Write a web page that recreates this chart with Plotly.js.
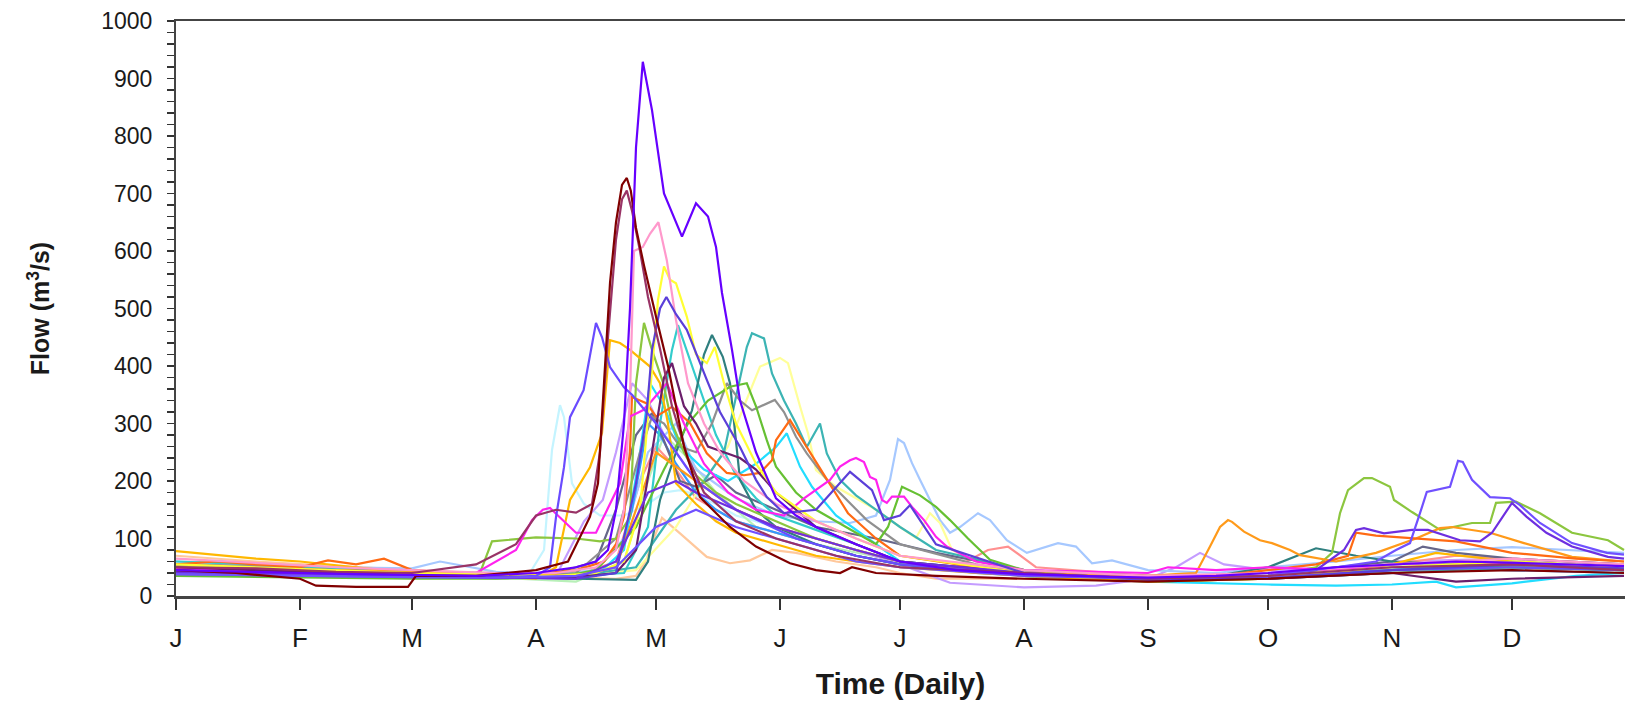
<!DOCTYPE html>
<html>
<head>
<meta charset="utf-8">
<script src="https://cdn.plot.ly/plotly-3.0.1.min.js"></script>
<style>html,body{margin:0;padding:0;background:#fff;}#chart{width:1625px;height:706px;}</style>
</head>
<body>
<div id="chart"></div>
<script>
// Month tick positions (day of year) and labels
const monthDays = [0,31,59,90,120,151,181,212,243,273,304,334];
const monthLabels = ['J','F','M','A','M','J','J','A','S','O','N','D'];

// Daily flow series (day of year, flow m3/s) at key days
const violetDays = [0,15,31,45,59,75,90,100,105,108,110,112,113.5,115,116.7,118,119,122,126.5,130,133,135,136.5,139,141,145,150,155,160,170,181,195,212,230,243,260,273,290,304,320,334,350,362];
const violetFlow = [45,42,40,38,36,35,40,50,60,80,150,300,500,780,929,880,845,700,625,683,660,607,527,428,340,250,170,140,120,90,60,45,38,34,32,35,40,50,55,60,58,55,52];

const maroonDays = [0,15,31,35,45,58,60,75,90,98,103.5,105.5,107,108.5,110,111.5,112.7,113.7,115,117,120,123,127,131,138.5,145,153.5,160,166,169,175,190,212,243,273,304,334,362];
const maroonFlow = [45,40,30,18,16,16,35,35,45,60,138,196,370,544,650,715,727,705,640,575,486,400,260,172,120,86,57,45,40,50,40,35,30,25,30,40,45,40];

const plumDays = [0,20,40,59,75,85,90,95,100,104,106,108,110,111.5,112.7,114,116,118,121,124,128,132,140,150,165,181,212,243,273,304,334,362];
const plumFlow = [50,48,42,40,55,90,140,150,145,160,250,450,620,690,705,670,600,520,430,330,240,180,130,100,70,50,40,30,35,50,55,45];

const pinkDays = [0,20,40,59,80,95,105,110,112,113.5,114.5,116.7,118.5,120.6,122.7,125,128,132,136,142,150,160,170,181,200,212,243,273,304,334,362];
const pinkFlow = [65,58,50,45,40,40,50,80,150,350,600,607,630,650,584,480,370,300,250,200,160,130,100,70,55,45,35,40,55,65,55];

const yellowDays = [0,20,40,59,80,95,105,112,116,119,120.5,122,123.5,125,127.7,130,132.7,134.7,137,140,145,150,160,170,181,212,243,273,304,334,362];
const yellowFlow = [55,50,45,40,38,35,40,60,150,400,515,573,550,544,486,420,405,433,370,300,230,180,130,100,70,40,30,35,50,60,50];

const paleYellowDays = [0,20,40,59,80,100,115,125,132,138,142,146,151,153,156,158,160,165,170,175,181,185,188.5,191,194,200,212,243,273,304,334,362];
const paleYellowFlow = [50,48,44,40,38,35,45,120,200,260,330,399,414,405,330,283,219,190,170,150,120,101,144,127,80,60,45,30,35,45,55,45];

const blueDays = [0,20,40,59,80,90,93.5,95,97,98.5,101.9,105,106.5,108.5,112,114,120,125,130,140,155,170,181,212,243,273,304,334,362];
const blueFlow = [38,36,35,33,32,35,50,137,224,311,358,475,450,398,363,350,300,250,200,150,100,70,55,38,30,32,45,50,45];

const indigoDays = [0,20,40,59,80,100,110,115,117.6,119,121,122.6,125,127.7,129,132.7,136,141,145,147.7,152,160,168.5,174,177,181,183.5,190,212,243,273,304,334,362];
const indigoFlow = [42,40,38,35,33,30,40,196,312,428,500,520,490,463,440,376,320,259,202,172,144,150,216,184,132,140,158,90,40,28,30,45,55,48];

const greenDays = [0,15,31,45,59,70,76,79,90,100,106,110,113.5,115,117,119,121.8,124,127,130,135,140,150,160,170,181,200,212,230,243,260,273,285,289,291,293,297,299,303.5,304.5,309,316,324,328.5,330,335,341,349,358,362];
const greenFlow = [40,38,35,34,33,35,40,95,102,100,95,100,137,370,475,428,370,300,250,210,180,160,130,100,80,60,45,35,30,28,30,35,50,75,144,184,205,205,190,167,146,115,127,127,162,164,144,110,97,80];

const leafDays = [0,20,40,59,80,95,105,115,122,128,133,138.5,142.7,145,147.7,150,155,160,165,170,175,178,181.5,186,190,193.5,198,203.5,212,243,273,304,334,362];
const leafFlow = [35,33,32,30,30,32,45,120,220,300,340,364,370,330,271,225,180,150,130,110,90,120,190,175,155,132,100,63,45,25,30,45,50,45];

const goldDays = [0,10,20,31,45,59,75,90,95,98.5,103.5,106.5,108.5,111,113.5,118.5,121,123,125,130,135,140,150,160,170,181,200,212,243,273,290,304,315,334,362];
const goldFlow = [78,72,65,60,50,40,35,30,50,167,224,283,445,440,428,399,370,300,196,160,130,110,90,70,60,50,40,35,25,30,40,55,75,60,50];

const tealDays = [0,20,40,59,80,100,115,125,132,137,141,142.7,144,147,149,152,155,157.7,161,162.7,166,170,174,181,190,212,243,273,304,334,362];
const tealFlow = [55,50,45,40,35,35,50,150,200,250,376,433,457,448,387,340,300,259,300,248,202,175,155,120,80,45,30,30,40,50,45];

const darkTealDays = [0,20,40,59,80,100,110,115,118,121,125,129,132,134,136.7,138.5,141,145,150,160,170,181,212,243,260,273,285,295,304,320,334,362];
const darkTealFlow = [45,42,40,38,35,30,28,28,60,167,250,323,420,454,416,370,202,150,120,90,70,55,40,30,35,50,83,70,60,55,50,45];

const turquoiseDays = [0,20,40,59,80,100,112,118,121,124,125.5,127.7,130,135,140,145,150,160,170,181,212,243,273,304,334,362];
const turquoiseFlow = [60,55,48,42,38,35,40,120,300,428,471,428,380,280,210,170,140,115,90,60,40,28,32,45,55,50];

const cyanDays = [0,20,40,59,80,95,105,112,116,118.5,122,126,132,138,145,150,152.7,156,159,165,175,181,212,243,273,290,304,315,320,334,350,362];
const cyanFlow = [50,48,44,40,36,33,35,80,250,370,330,260,220,200,230,259,283,225,190,140,90,60,35,25,20,18,20,25,15,22,35,40];

const grayDays = [0,20,40,59,75,90,100,110,116,119,122,126,130,134,137.7,141,144,149.7,152,155,157.7,162.7,167.7,172.7,181,200,212,243,273,304,334,362];
const grayFlow = [55,52,45,42,40,35,40,100,250,312,300,260,250,300,370,340,323,341,320,277,248,202,167,132,90,55,40,30,35,55,60,50];

const orangeDays = [0,10,20,31,38,45,52,59,70,80,90,100,107,110,112,113.5,114,117.7,120,124,128.5,132.7,137.7,142,146,149,150,153.5,157.7,162.7,168,175,181,200,212,243,260,273,285,293,295,300,310,320,334,350,362];
const orangeFlow = [55,60,55,50,62,55,65,45,40,35,38,45,60,90,138,254,346,335,312,329,301,248,214,210,214,236,271,306,259,202,144,100,70,50,40,30,35,45,55,70,110,105,100,95,75,65,60];

const skyDays = [0,20,40,59,66,80,95,105,112,118,125,130,140,150,160,168.5,175,178.5,180.5,182,184,186,191,193.5,196,200.5,203.5,207.7,212.7,220.5,225,229,234,243,260,273,290,304,320,334,350,362];
const skyFlow = [60,55,50,48,60,42,38,45,100,250,300,220,170,140,130,127,140,202,273,266,231,202,132,110,120,144,132,97,75,92,86,57,62,45,40,50,60,70,80,85,80,75];

const magentaDays = [0,20,40,59,75,85,89,91.7,93.5,96,100,105,111,113.5,116.7,119,122.7,127,132,138,145,152,157,163.5,166,168.5,170,172,173.5,175,176.5,177.7,179,182,184,187,190,192.7,200,212,243,248,260,273,290,304,320,334,362];
const magentaFlow = [48,45,40,38,40,80,132,150,153,137,110,110,196,312,323,340,370,300,230,180,150,140,170,202,225,236,240,233,207,202,167,162,173,173,155,132,103,86,60,45,40,50,45,50,45,55,60,55,50];

const peachDays = [0,20,40,59,80,100,110,115,117.6,119,121.5,126,132.7,138.5,143.5,149,155,165,175,181,190,212,243,273,304,334,362];
const peachFlow = [70,60,52,45,38,32,30,35,63,92,136,109,68,57,62,80,75,60,50,40,30,30,28,32,40,50,45];

const iceDays = [0,20,40,59,80,88,92,94,96,97,99,102,106,112,118,122,126,129,135,140,150,160,170,181,212,243,273,304,334,362];
const iceFlow = [50,48,45,40,35,35,80,254,332,311,196,160,140,140,160,180,184,178,160,140,120,100,80,60,40,30,30,40,50,45];

const lavenderDays = [0,20,40,59,80,95,102,106.7,110,114,118,122,130,140,150,160,170,181,193.5,212,230,243,250,256,262,273,290,304,334,362];
const lavenderFlow = [45,42,40,35,30,35,130,167,250,370,340,280,200,150,120,100,80,55,23,15,18,30,50,75,55,45,50,60,65,55];

const plumDarkDays = [0,20,40,59,80,100,110,115,119,122,124,127,130,133,137,141,145,150,160,170,181,212,243,273,304,320,334,362];
const plumDarkFlow = [50,45,40,38,35,33,40,80,250,380,405,330,300,260,250,240,220,180,120,90,60,40,30,30,40,25,30,35];

const slateDays = [0,20,40,59,80,95,105,110,115,119,122,126,130,135,140,150,160,175,190,212,243,273,290,304,311.7,320,334,362];
const slateFlow = [55,50,45,42,40,40,60,150,280,318,270,200,190,210,180,150,120,100,75,45,35,35,50,60,86,75,65,55];

const royalDays = [0,20,40,59,80,100,110,114,118,121,125,130,135,140,150,160,170,181,200,212,243,273,290,304,334,362];
const royalFlow = [40,38,36,35,33,35,50,150,300,280,230,180,150,130,110,90,70,55,40,35,28,30,40,50,45,40];

const salmonDays = [0,20,40,59,80,100,110,116,120,124,130,140,150,160,170,181,195,203,208,215,243,273,304,320,334,362];
const salmonFlow = [55,52,48,42,38,35,60,200,260,230,170,130,110,90,70,55,50,80,86,50,35,35,55,70,65,55];

const mintDays = [0,20,40,59,80,100,112,118,122,128,135,145,160,181,212,243,273,304,334,362];
const mintFlow = [45,42,40,36,32,25,60,200,280,240,180,120,90,60,40,25,30,45,55,50];

const purpleDays = [0,20,40,59,80,100,110,118,125,130,140,150,160,170,181,212,243,260,273,285,292,295,297,302,309,313,321,326,329,334,337.6,342.6,349,358,362];
const purpleFlow = [40,38,35,33,32,30,60,180,200,180,150,120,100,80,60,40,30,30,35,45,80,115,118,109,115,115,97,95,110,162,138,110,86,68,65];

const lilacBlueDays = [0,20,40,59,80,100,110,120,130,140,150,160,170,181,212,243,273,290,300,305,308.5,311,312.7,318.5,320.5,321.7,324,328.5,333.5,336,341,349,357.7,362];
const lilacBlueFlow = [38,36,35,33,32,35,50,120,150,120,100,80,60,50,35,30,35,50,60,80,92,144,181,190,235,233,202,172,170,158,127,92,75,72];

const amberDays = [0,20,40,59,80,100,110,115,120,130,140,150,160,170,181,200,212,243,250,255,258.5,261,263,264,267,271,274,278.5,281,290,300,310,316,319,328.5,337,349,362];
const amberFlow = [50,48,45,42,38,35,50,150,250,200,150,120,100,80,60,45,40,35,38,40,86,120,132,129,112,97,92,80,71,60,75,100,118,120,110,92,68,60];

// Series list: data arrays paired with line colours
const seriesList = [
  {name:'S01', x:iceDays, y:iceFlow, color:'#c4f4ff'},
  {name:'S02', x:mintDays, y:mintFlow, color:'#b8f0b8'},
  {name:'S03', x:peachDays, y:peachFlow, color:'#ffc89c'},
  {name:'S04', x:lavenderDays, y:lavenderFlow, color:'#c49cff'},
  {name:'S05', x:salmonDays, y:salmonFlow, color:'#ff9090'},
  {name:'S06', x:skyDays, y:skyFlow, color:'#a6c8ff'},
  {name:'S07', x:paleYellowDays, y:paleYellowFlow, color:'#ffff99'},
  {name:'S08', x:royalDays, y:royalFlow, color:'#3399ff'},
  {name:'S09', x:slateDays, y:slateFlow, color:'#66668a'},
  {name:'S10', x:cyanDays, y:cyanFlow, color:'#22ddff'},
  {name:'S11', x:turquoiseDays, y:turquoiseFlow, color:'#33cccc'},
  {name:'S12', x:tealDays, y:tealFlow, color:'#3cb4b4'},
  {name:'S13', x:darkTealDays, y:darkTealFlow, color:'#2f7f7f'},
  {name:'S14', x:grayDays, y:grayFlow, color:'#909090'},
  {name:'S15', x:leafDays, y:leafFlow, color:'#66c033'},
  {name:'S16', x:greenDays, y:greenFlow, color:'#8cc63f'},
  {name:'S17', x:goldDays, y:goldFlow, color:'#ffb800'},
  {name:'S18', x:amberDays, y:amberFlow, color:'#ff9a1a'},
  {name:'S19', x:orangeDays, y:orangeFlow, color:'#ff6a13'},
  {name:'S20', x:magentaDays, y:magentaFlow, color:'#ff22ee'},
  {name:'S21', x:plumDarkDays, y:plumDarkFlow, color:'#6b1f6b'},
  {name:'S22', x:yellowDays, y:yellowFlow, color:'#ffff33'},
  {name:'S23', x:pinkDays, y:pinkFlow, color:'#ff99cc'},
  {name:'S24', x:blueDays, y:blueFlow, color:'#6a4bff'},
  {name:'S25', x:indigoDays, y:indigoFlow, color:'#5b3fd9'},
  {name:'S26', x:purpleDays, y:purpleFlow, color:'#6e2fe0'},
  {name:'S27', x:lilacBlueDays, y:lilacBlueFlow, color:'#7050ff'},
  {name:'S28', x:plumDays, y:plumFlow, color:'#993366'},
  {name:'S29', x:maroonDays, y:maroonFlow, color:'#800000'},
  {name:'S30', x:violetDays, y:violetFlow, color:'#6600ff'}
];

const traces = seriesList.map(s => ({
  type:'scatter', mode:'lines', name:s.name, x:s.x, y:s.y,
  line:{color:s.color, width:2.2}, hoverinfo:'skip'
}));

const layout = {
  width:1625, height:706,
  paper_bgcolor:'#ffffff', plot_bgcolor:'#ffffff',
  margin:{l:176, r:0, t:21, b:110},
  showlegend:false,
  font:{family:'Liberation Sans, Arial, sans-serif', color:'#1a1a1a'},
  xaxis:{
    range:[0,362.25], tickmode:'array', tickvals:monthDays, ticktext:monthLabels,
    ticks:'outside', ticklen:11, tickwidth:1.5, tickcolor:'#333',
    showline:true, linecolor:'#444', linewidth:2.5, mirror:true,
    showgrid:false, zeroline:false, fixedrange:true,
    tickfont:{size:26, color:'#1a1a1a'}, ticklabelstandoff:6,
    title:{text:'<b>Time (Daily)</b>', font:{size:30, color:'#1a1a1a'}, standoff:22}
  },
  yaxis:{
    range:[0,1000], dtick:100, tick0:0,
    ticks:'outside', ticklen:7, tickwidth:1.5, tickcolor:'#333',
    minor:{dtick:20, ticks:'outside', ticklen:7, tickwidth:1.5, tickcolor:'#333', showgrid:false},
    showline:true, linecolor:'#444', linewidth:2,
    showgrid:false, zeroline:false, fixedrange:true,
    tickfont:{size:23, color:'#1a1a1a'}, ticklabelstandoff:10,
    title:{text:'<b>Flow (m<sup>3</sup>/s)</b>', font:{size:25, color:'#1a1a1a'}, standoff:44}
  }
};

Plotly.newPlot('chart', traces, layout, {displayModeBar:false, staticPlot:true});
</script>
</body>
</html>
